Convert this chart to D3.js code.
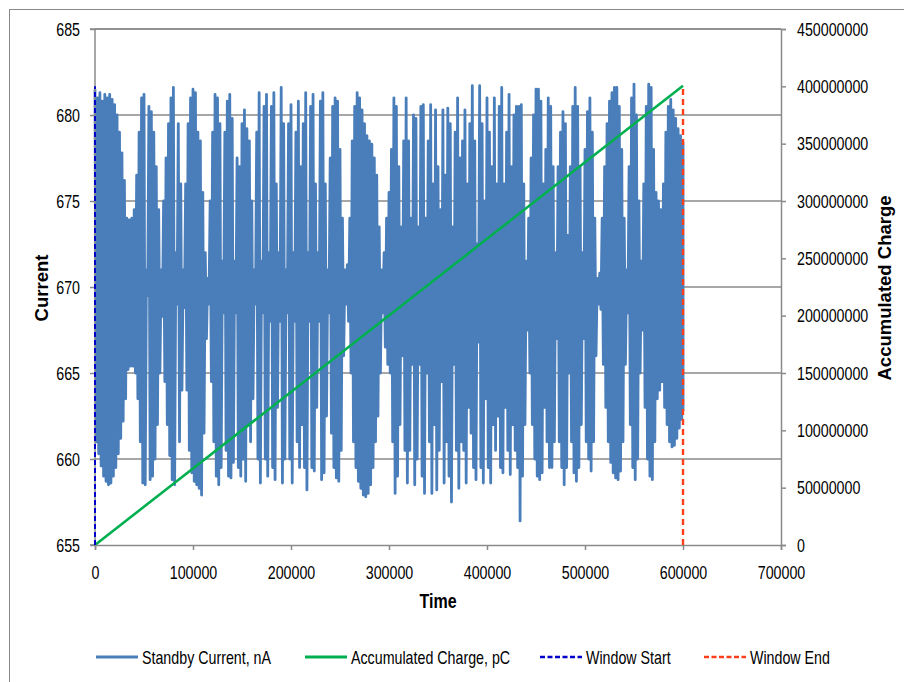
<!DOCTYPE html>
<html><head><meta charset="utf-8">
<script src="https://cdn.jsdelivr.net/npm/d3@7"></script>
<style>
body{margin:0;background:#fff;}
svg text{font-family:"Liberation Sans",Arial,sans-serif;fill:#000;}
</style></head><body>
<svg id="chart" width="904" height="682"></svg>
<script>
// ---------- data ----------
const sampleStep = 2500; // time units between envelope readings (0 .. 600000)
const currentHigh = [
681.5,681.0,681.3,680.8,681.2,681.0,681.2,680.9,680.6,680.0,
679.0,677.8,676.2,674.0,673.9,674.0,674.5,676.5,679.0,681.0,
681.2,671.0,680.5,680.2,679.0,677.0,674.5,671.0,675.0,677.5,
679.5,681.0,681.6,672.0,679.5,676.0,671.0,676.0,679.5,681.0,
681.5,681.3,679.0,678.5,675.5,672.0,670.5,675.0,679.0,681.2,
681.0,679.5,671.5,679.0,680.8,681.2,679.8,671.5,677.5,677.0,
679.5,680.3,679.2,678.5,675.0,671.0,679.0,681.3,671.5,680.5,
681.2,672.0,680.5,681.3,676.0,672.0,681.6,679.5,671.0,679.5,
680.6,672.0,679.0,680.8,677.0,679.5,681.3,672.0,680.5,681.2,
676.0,672.0,680.8,681.3,676.0,671.0,677.5,680.5,681.0,680.8,
678.0,674.0,671.0,671.3,674.0,678.5,680.5,681.3,681.0,680.3,
679.5,678.8,678.5,678.3,677.5,676.5,673.5,671.0,672.0,674.0,
675.5,678.0,681.0,680.5,677.0,673.5,678.5,681.0,678.5,674.0,
680.0,679.8,673.5,680.5,680.6,674.0,678.5,680.6,676.0,680.3,
677.0,674.5,680.3,676.5,680.4,679.5,673.5,679.0,681.0,677.5,
678.5,680.3,676.0,679.5,681.7,678.5,672.5,681.7,679.5,675.0,
681.0,679.0,677.0,681.0,676.0,680.5,681.6,676.0,679.0,681.2,
677.0,680.0,680.5,680.5,680.6,676.0,671.5,674.0,677.5,680.0,
681.5,681.5,680.8,676.0,678.0,681.0,680.5,677.0,672.0,677.0,
679.0,680.2,679.5,673.0,677.0,680.5,681.6,680.5,677.0,672.0,
678.0,680.2,681.0,679.0,674.0,670.5,670.8,674.0,677.0,679.5,
680.8,681.3,681.6,681.6,680.5,678.0,674.0,671.0,677.0,681.0,
681.8,680.0,675.0,671.5,676.0,680.5,681.8,681.6,678.0,675.5,
675.0,674.5,676.0,679.0,680.5,680.9,680.3,679.8,679.2,678.8,
678.4];
const currentLow = [
661.0,660.3,659.6,659.0,658.7,658.5,658.6,659.0,659.5,660.3,
661.2,662.2,663.5,665.2,665.4,665.4,665.0,663.5,661.0,658.6,
658.5,669.5,658.8,659.0,660.0,662.0,665.0,668.3,664.5,662.0,
660.2,658.8,658.5,669.0,661.0,664.0,668.8,664.0,660.5,659.2,
658.7,658.5,658.3,657.9,661.5,667.0,669.0,664.5,661.0,659.0,
658.5,659.5,668.5,660.5,659.0,658.9,659.8,668.5,659.5,659.0,
660.0,658.7,662.0,661.0,663.5,669.0,660.0,658.6,668.5,660.0,
659.0,668.0,659.5,658.8,663.0,668.0,658.6,660.0,668.5,660.0,
658.6,668.0,661.0,659.5,662.0,659.5,658.2,668.0,659.5,659.3,
663.0,668.0,658.8,659.2,662.5,668.5,661.5,659.5,658.9,658.7,
660.5,666.0,669.0,668.0,665.0,661.0,659.5,658.7,658.3,657.9,
657.8,658.0,658.5,659.5,661.0,662.5,665.0,668.5,666.5,665.5,
665.0,661.0,658.0,659.0,662.0,666.0,660.5,658.6,660.5,665.5,
658.5,660.0,665.5,659.0,658.0,665.0,661.0,658.0,662.0,658.2,
660.5,664.5,658.6,661.0,659.0,657.5,665.5,660.5,658.3,661.0,
660.5,658.6,663.0,661.5,659.5,658.8,666.8,659.5,658.6,663.5,
659.5,658.6,662.0,660.5,662.5,659.5,659.2,663.0,660.5,659.1,
662.0,660.5,659.5,656.4,659.0,662.0,667.5,665.0,662.0,660.0,
659.0,658.8,659.2,663.0,661.0,659.5,659.5,661.0,667.0,661.0,
659.5,658.5,659.5,665.0,661.0,659.2,658.7,659.5,662.0,667.0,
661.0,660.0,659.3,661.0,666.0,669.0,668.7,665.5,663.0,661.0,
659.8,659.2,658.9,658.8,659.3,661.0,665.5,668.5,662.0,659.5,
658.8,660.0,665.0,667.5,663.0,660.0,659.0,658.8,661.0,663.5,
664.0,664.5,663.0,662.0,661.0,660.7,660.8,661.2,661.8,662.3,
662.8];
const chargeTimes  = [0, 100000, 200000, 300000, 400000, 500000, 600000];
const chargeValues = [0, 66800000, 133500000, 200200000, 267000000, 333800000, 400500000];
const windowStartTimes = [0, 0];
const windowEndTimes = [600000, 600000];
const windowLevels = [0, 400000000];
const xTicks = [0, 100000, 200000, 300000, 400000, 500000, 600000, 700000];
const leftTicks = [655, 660, 665, 670, 675, 680, 685];
const rightTicks = [0, 50000000, 100000000, 150000000, 200000000, 250000000, 300000000, 350000000, 400000000, 450000000];
const seriesNames = ["Standby Current, nA", "Accumulated Charge, pC", "Window Start", "Window End"];
const seriesColors = ["#4a7ebb", "#00b050", "#0000c8", "#ff3f1a"];

// ---------- layout ----------
const svg = d3.select("#chart");
const L = 95, R = 781, T = 29, B = 545;
const SX = 0.75; // horizontal squeeze of the condensed label font
const x = d3.scaleLinear().domain([0, 700000]).range([L, R]);
const yL = d3.scaleLinear().domain([655, 685]).range([B, T]);
const yR = d3.scaleLinear().domain([0, 450000000]).range([B, T]);
const gridCol = "#8a8a8a";

function squeeze(sel, sx) {
  sel.each(function () {
    const t = d3.select(this);
    const xx = +t.attr("x") || 0, yy = +t.attr("y") || 0;
    t.attr("x", 0).attr("y", 0).attr("transform", `translate(${xx},${yy}) scale(${sx},1)`);
  });
}

// chart border
svg.append("rect").attr("x", 9.5).attr("y", 9.5).attr("width", 960).attr("height", 760)
  .attr("fill", "#fff").attr("stroke", "#8a8a8a").attr("stroke-width", 1);

// gridlines
svg.append("g").selectAll("line").data(leftTicks.filter(d => d > 655)).join("line")
  .attr("x1", L).attr("x2", R).attr("y1", d => yL(d)).attr("y2", d => yL(d))
  .attr("stroke", gridCol).attr("stroke-width", 1.5);

// standby current (dense zig-zag between read-off highs and lows)
const pts = [];
currentHigh.forEach((h, i) => {
  const t = i * sampleStep;
  pts.push([t, h]);
  pts.push([Math.min(t + sampleStep / 2, 600000), currentLow[i]]);
});
svg.append("path").datum(pts)
  .attr("d", d3.line().x(d => x(d[0])).y(d => yL(d[1])))
  .attr("fill", "none").attr("stroke", seriesColors[0]).attr("stroke-width", 2.8)
  .attr("stroke-linejoin", "round");

// accumulated charge
svg.append("path").datum(chargeTimes.map((t, i) => [t, chargeValues[i]]))
  .attr("d", d3.line().x(d => x(d[0])).y(d => yR(d[1])))
  .attr("fill", "none").attr("stroke", seriesColors[1]).attr("stroke-width", 2.6);

// axes
const axL = svg.append("g").attr("transform", `translate(${L},0)`)
  .call(d3.axisLeft(yL).tickValues(leftTicks).tickSize(5).tickPadding(10).tickFormat(d3.format("d")));
const axR = svg.append("g").attr("transform", `translate(${R},0)`)
  .call(d3.axisRight(yR).tickValues(rightTicks).tickSize(5).tickPadding(11).tickFormat(d3.format("d")));
const axB = svg.append("g").attr("transform", `translate(0,${B})`)
  .call(d3.axisBottom(x).tickValues(xTicks).tickSize(5).tickPadding(15).tickFormat(d3.format("d")));
[axL, axR, axB].forEach(a => {
  a.select(".domain").attr("stroke", gridCol).attr("stroke-width", 1.5);
  a.selectAll(".tick line").attr("stroke", gridCol).attr("stroke-width", 1.5);
  a.selectAll(".tick text").attr("font-size", 19).attr("font-family", null).attr("fill", "#000");
  squeeze(a.selectAll(".tick text"), SX);
});
axL.select(".domain").attr("d", `M-5,${T}H0V${B}H-5`);
svg.append("line").attr("x1", L).attr("x2", R).attr("y1", T).attr("y2", T)
  .attr("stroke", gridCol).attr("stroke-width", 1.5);

// window lines
svg.append("path").datum(windowLevels.map((v, i) => [windowStartTimes[i], v]))
  .attr("d", d3.line().x(d => x(d[0])).y(d => yR(d[1])))
  .attr("stroke", seriesColors[2]).attr("stroke-width", 2).attr("stroke-dasharray", "5,3").attr("fill", "none");
svg.append("path").datum(windowLevels.map((v, i) => [windowEndTimes[i], v]))
  .attr("d", d3.line().x(d => x(d[0])).y(d => yR(d[1])))
  .attr("stroke", seriesColors[3]).attr("stroke-width", 2.4).attr("stroke-dasharray", "6,4").attr("fill", "none");

// axis titles
const tt = svg.append("text").attr("x", (L + R) / 2).attr("y", 608).attr("text-anchor", "middle")
  .attr("font-size", 20).attr("font-weight", "bold").text("Time");
squeeze(tt, 0.8);
svg.append("text").attr("transform", `translate(48,${(T + B) / 2 + 1}) rotate(-90)`).attr("text-anchor", "middle")
  .attr("font-size", 18.5).attr("font-weight", "bold").text("Current");
svg.append("text").attr("transform", `translate(891,${(T + B) / 2 + 1}) rotate(-90)`).attr("text-anchor", "middle")
  .attr("font-size", 18.5).attr("font-weight", "bold").text("Accumulated Charge");

// legend
const legX = [96, 305, 540, 704];
const dashes = [null, null, "5,2.5", "5,2.5"];
const lg = svg.append("g").selectAll("g").data(seriesNames).join("g")
  .attr("transform", (d, i) => `translate(${legX[i]},657)`);
lg.append("line").attr("x1", 0).attr("x2", 42).attr("y1", 0).attr("y2", 0)
  .attr("stroke", (d, i) => seriesColors[i]).attr("stroke-width", (d, i) => i < 2 ? 3 : 2.5)
  .attr("stroke-dasharray", (d, i) => dashes[i]);
const lt = lg.append("text").attr("x", 46).attr("y", 7).attr("font-size", 19).text(d => d);
squeeze(lt, SX);
</script>
</body></html>
